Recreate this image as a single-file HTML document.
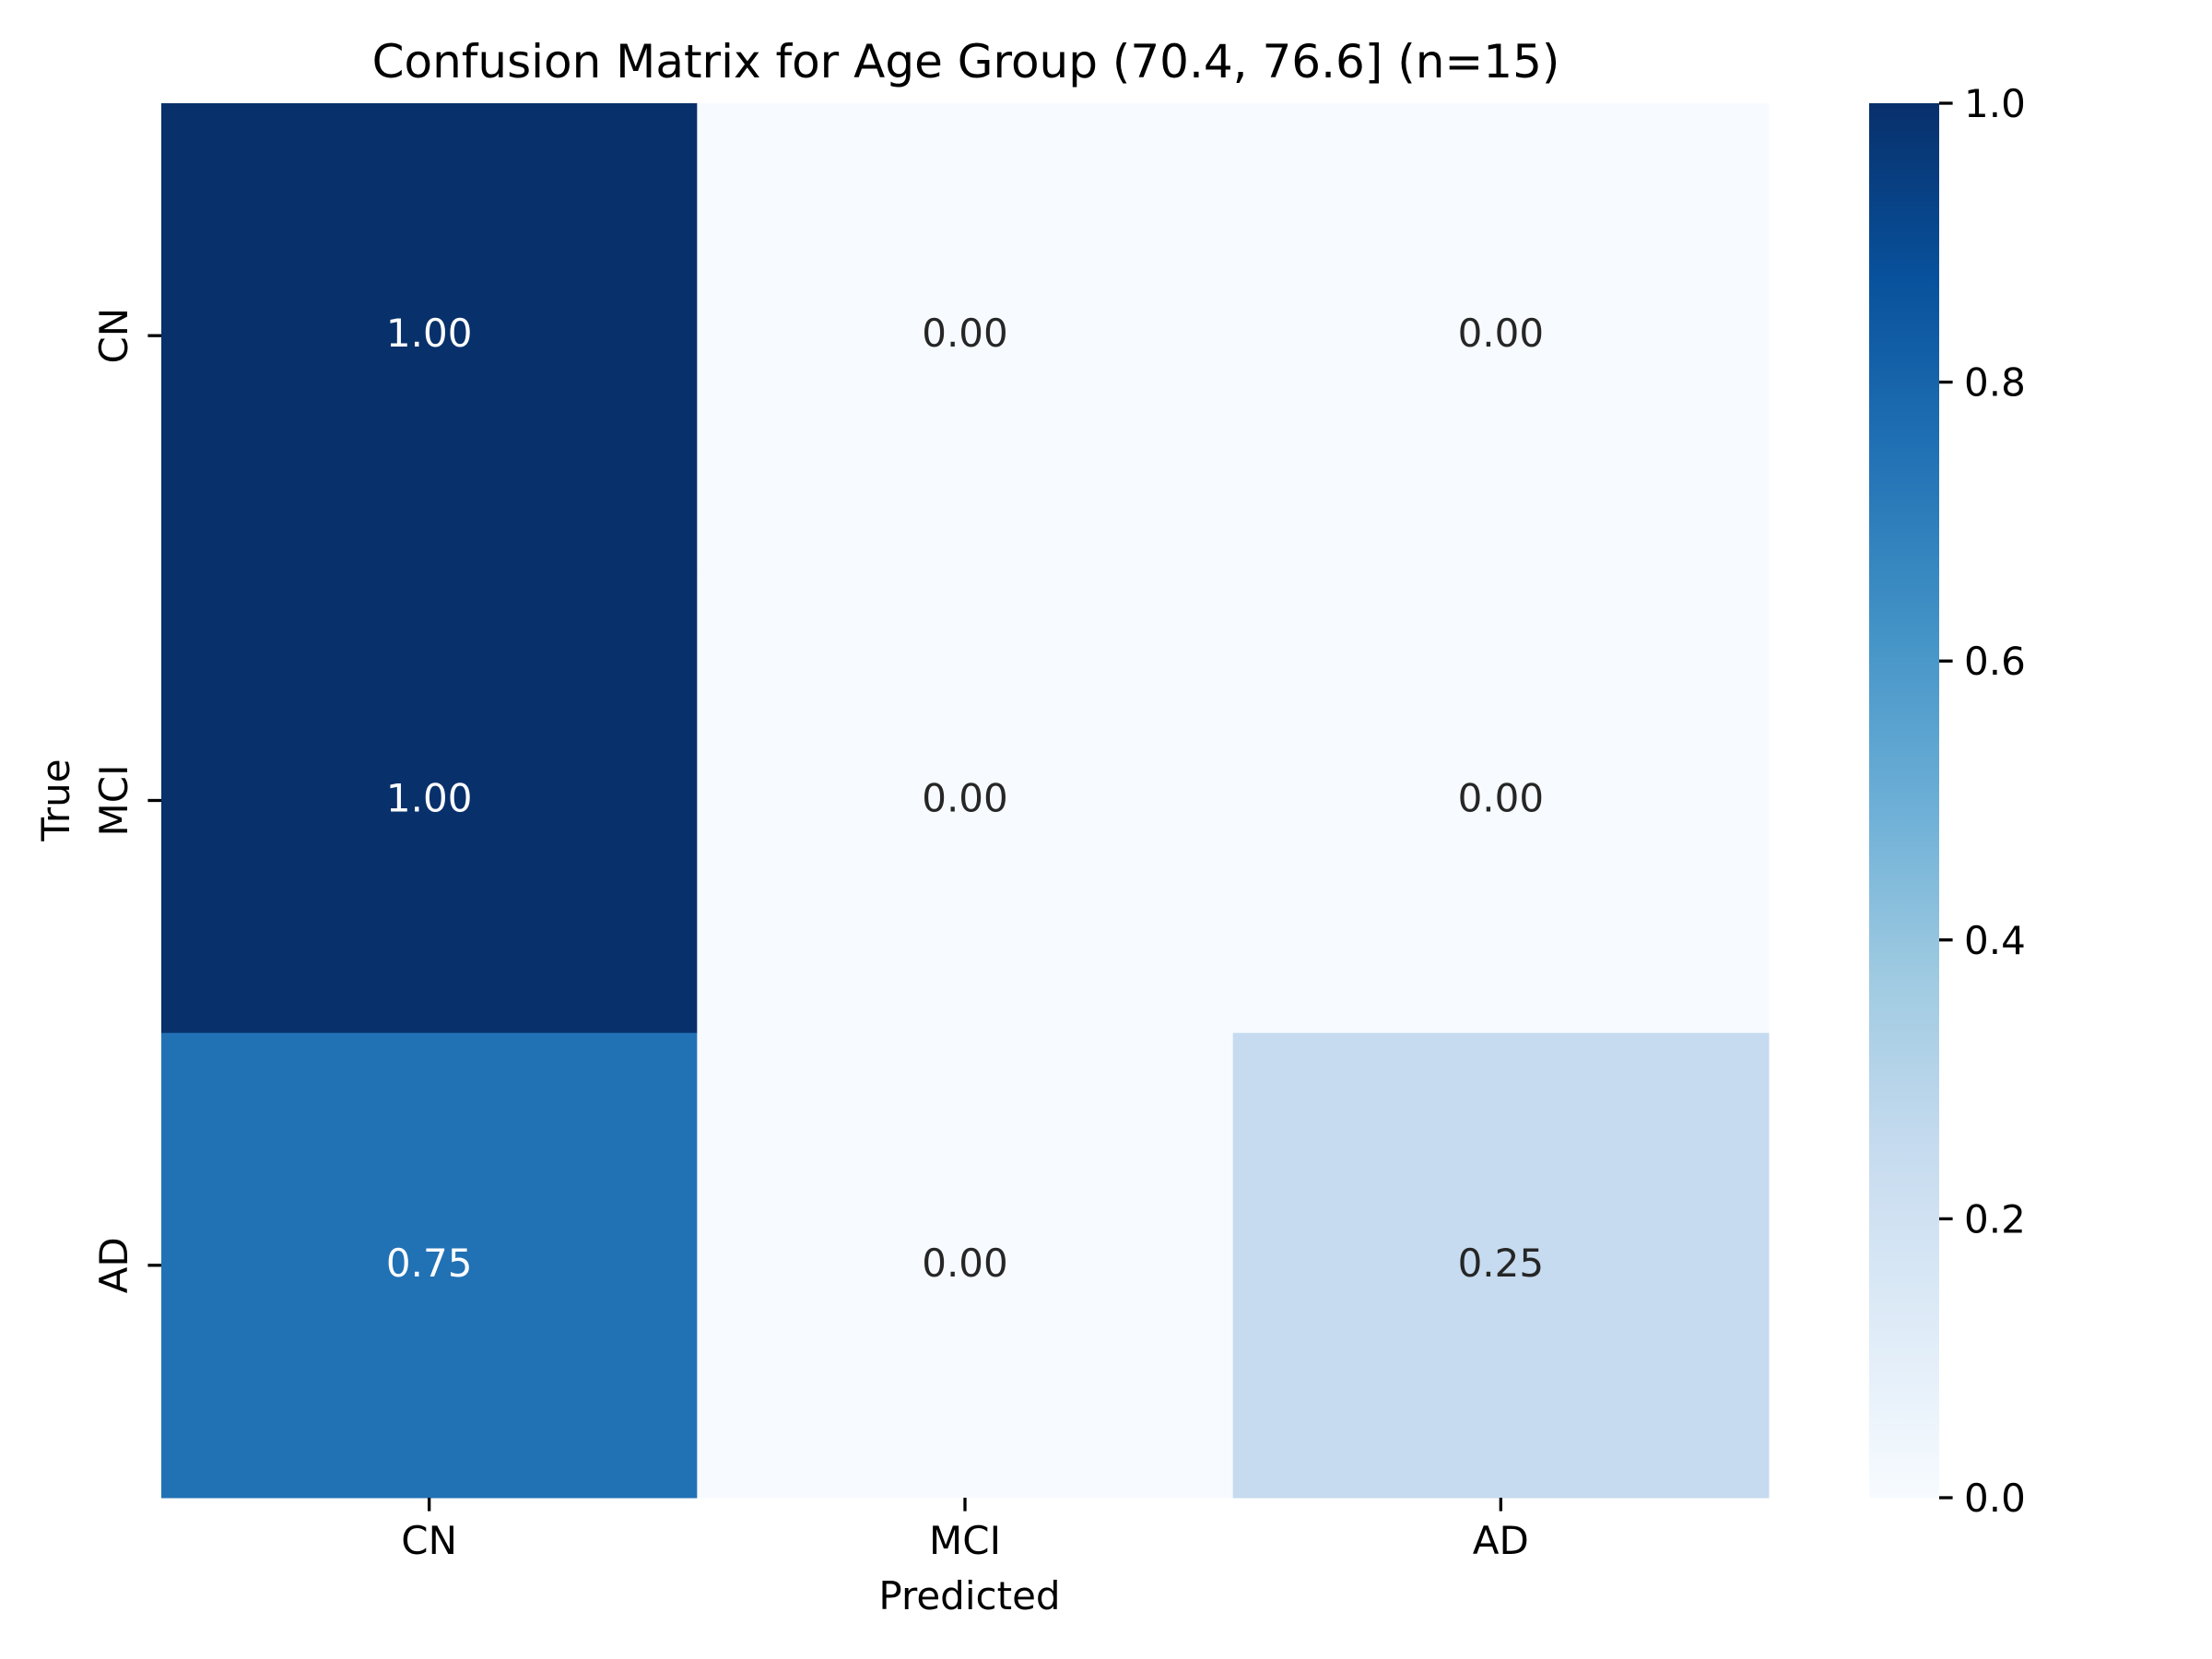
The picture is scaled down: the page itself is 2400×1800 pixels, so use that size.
<!DOCTYPE html>
<html><head><meta charset="utf-8"><style>
html,body{margin:0;padding:0;background:#fff}
svg{display:block}
text{font-family:"DejaVu Sans","Liberation Sans",sans-serif}
</style></head><body>
<svg id="chart" width="2400" height="1800" viewBox="0 0 2400 1800">
<defs>
<linearGradient id="blues" x1="0" y1="1" x2="0" y2="0">
<stop offset="0" stop-color="#f7fbff"/><stop offset="0.125" stop-color="#deebf7"/>
<stop offset="0.25" stop-color="#c6dbef"/><stop offset="0.375" stop-color="#9ecae1"/>
<stop offset="0.5" stop-color="#6baed6"/><stop offset="0.625" stop-color="#4292c6"/>
<stop offset="0.75" stop-color="#2171b5"/><stop offset="0.875" stop-color="#08519c"/>
<stop offset="1" stop-color="#08306b"/>
</linearGradient>
</defs>
<text x="1048" y="84" font-size="50" text-anchor="middle">Confusion Matrix for Age Group (70.4, 76.6] (n=15)</text>
<g id="cells"></g>
<g id="axes"></g>
<rect x="2028" y="112" width="76" height="1513" fill="url(#blues)"/>
<g id="cbar"></g>
<text x="1052" y="1746" font-size="42" text-anchor="middle">Predicted</text>
<text transform="translate(75,868) rotate(-90)" font-size="42" text-anchor="middle">True</text>
</svg>
<script>
const categories = ["CN","MCI","AD"];
const matrix = [[1.00,0.00,0.00],[1.00,0.00,0.00],[0.75,0.00,0.25]];
const cbarTicks = [0.0,0.2,0.4,0.6,0.8,1.0];

const NS="http://www.w3.org/2000/svg";
const L=175,T=112,R=1919,B=1625;
const cw=(R-L)/categories.length, ch=(B-T)/categories.length;
const colX=i=>L+i*cw, rowY=i=>T+i*ch;
const cbY=v=>B-(v-0)/(1-0)*(B-T);
const stops=[[0,[247,251,255]],[.125,[222,235,247]],[.25,[198,219,239]],[.375,[158,202,225]],[.5,[107,174,214]],[.625,[66,146,198]],[.75,[33,113,181]],[.875,[8,81,156]],[1,[8,48,107]]];
function color(v){for(let i=0;i<stops.length-1;i++){const[a,ca]=stops[i],[b,cb]=stops[i+1];if(v<=b){const t=(v-a)/(b-a);return`rgb(${ca.map((c,k)=>Math.round(c+(cb[k]-c)*t)).join(',')})`;}}return'rgb(8,48,107)';}
function mk(tag,attrs,parent){const e=document.createElementNS(NS,tag);for(const k in attrs)e.setAttribute(k,attrs[k]);parent.appendChild(e);return e;}
const cells=document.getElementById('cells'),axes=document.getElementById('axes'),cbar=document.getElementById('cbar');
matrix.forEach((row,r)=>row.forEach((v,c)=>{
 const rc=mk('rect',{x:colX(c),y:rowY(r),width:cw+0.5,height:ch+0.5,fill:color(v)},cells);
 
 
 const t=mk('text',{x:colX(c)+cw/2,y:rowY(r)+ch/2+12,'font-size':42,'text-anchor':'middle',fill:v>0.5?'#ffffff':'#262626'},cells);
 t.textContent=v.toFixed(2);
 
 
}));
categories.forEach((c,i)=>{
 const cx=colX(i)+cw/2, cy=rowY(i)+ch/2;
 const tx=mk('line',{x1:cx,x2:cx,y1:B,y2:B+14.6,stroke:'#000','stroke-width':3.3},axes);
 
 
 const lx=mk('text',{x:cx,y:B+61,'font-size':42,'text-anchor':'middle'},axes);
 lx.textContent=c;
 
 
 const ty=mk('line',{x1:L-14.6,x2:L,y1:cy,y2:cy,stroke:'#000','stroke-width':3.3},axes);
 
 
 const ly=mk('text',{transform:`translate(${L-37},${cy}) rotate(-90)`,'font-size':42,'text-anchor':'middle'},axes);
 ly.textContent=c;
 
 
});
cbarTicks.forEach(v=>{
 const y=cbY(v);
 const tl=mk('line',{x1:2104,x2:2118.6,y1:y,y2:y,stroke:'#000','stroke-width':3.3},cbar);
 
 
 const tt=mk('text',{x:2131,y:y+15,'font-size':42},cbar);
 tt.textContent=v.toFixed(1);
 
 
});
</script>
</body></html>
